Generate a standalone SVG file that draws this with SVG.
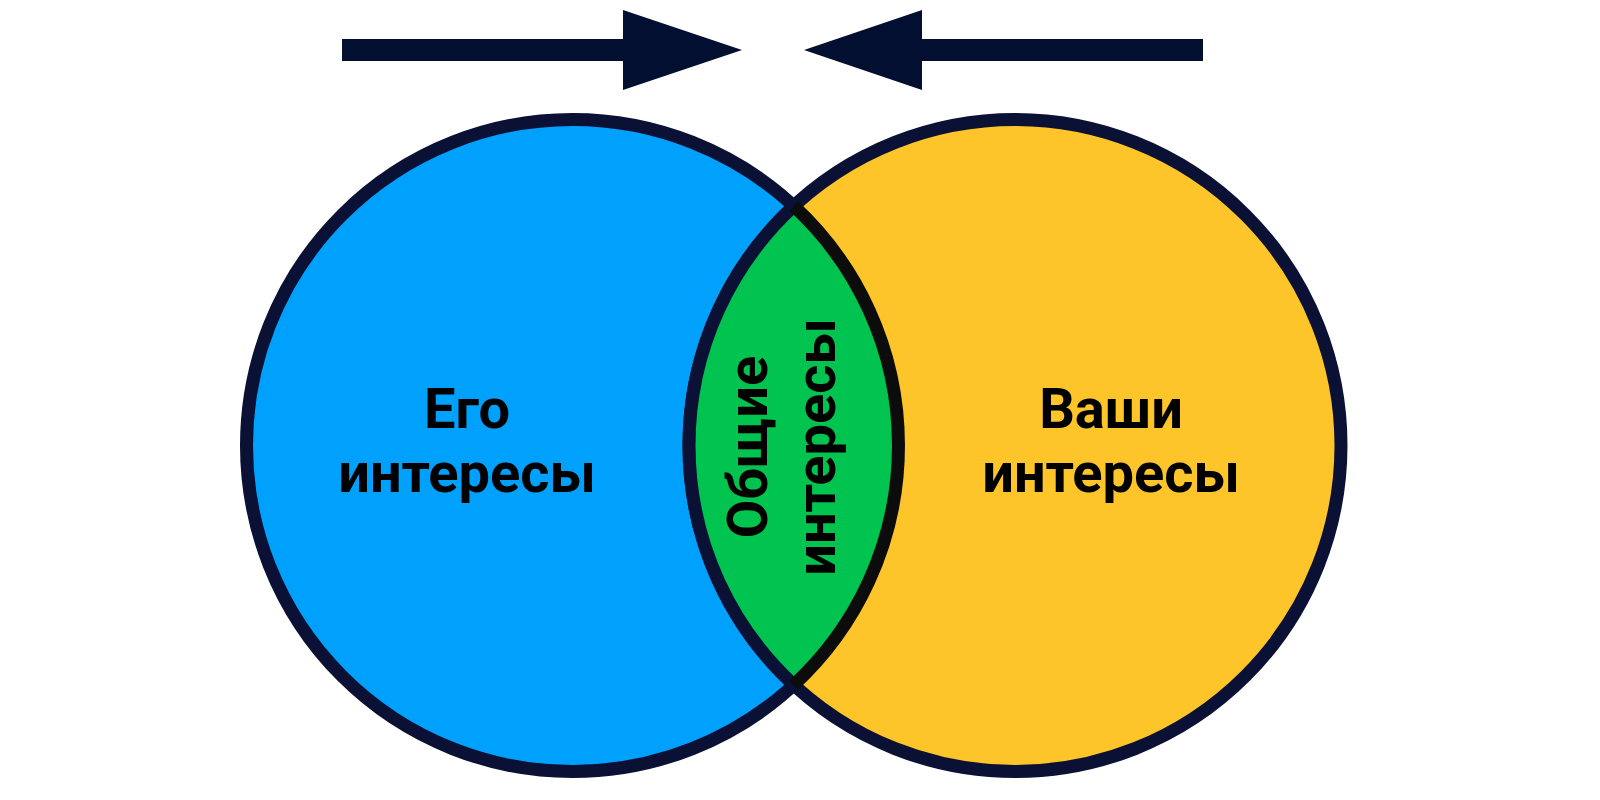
<svg xmlns="http://www.w3.org/2000/svg" width="1600" height="800" viewBox="0 0 1600 800">
  <style>
    .circle { stroke: #0a1135; stroke-width: 13; }
    .arc { fill: none; stroke-width: 13; }
    .label { font-family: Roboto, "Liberation Sans", sans-serif; font-weight: 700; font-size: 56px; fill: #000; text-anchor: middle; }
    .arrow { fill: #030f30; }
  </style>
  <rect width="1600" height="800" fill="#ffffff"/>
  <g id="his-interests">
    <circle class="circle" cx="572.5" cy="445.5" r="326" fill="#00a0fd"/>
  </g>
  <g id="your-interests">
    <circle class="circle" cx="1015" cy="445.5" r="326" fill="#fdc52a"/>
  </g>
  <g id="common-interests">
    <path d="M 793.75 206.1 A 326 326 0 0 1 793.75 684.9 A 326 326 0 0 1 793.75 206.1 Z" fill="#00c44f"/>
    <path class="arc" d="M 793.75 206.1 A 326 326 0 0 0 793.75 684.9" stroke="#0a1135"/>
    <path class="arc" d="M 793.75 206.1 A 326 326 0 0 1 793.75 684.9" stroke="#0c0c0c"/>
    <g transform="translate(801,447) rotate(-90)">
      <text class="label" x="0" y="-34">Общие</text>
      <text class="label" x="0" y="34">интересы</text>
    </g>
  </g>
  <g id="his-label">
    <text class="label" x="467" y="428">Его</text>
    <text class="label" x="467" y="492">интересы</text>
  </g>
  <g id="your-label">
    <text class="label" x="1111" y="428">Ваши</text>
    <text class="label" x="1111" y="492">интересы</text>
  </g>
  <g id="connectors">
    <polygon class="arrow" points="342,39 623,39 623,10 742,50 623,90 623,61 342,61"/>
    <polygon class="arrow" points="1203,39 922,39 922,10 804,50 922,90 922,61 1203,61"/>
  </g>
</svg>
